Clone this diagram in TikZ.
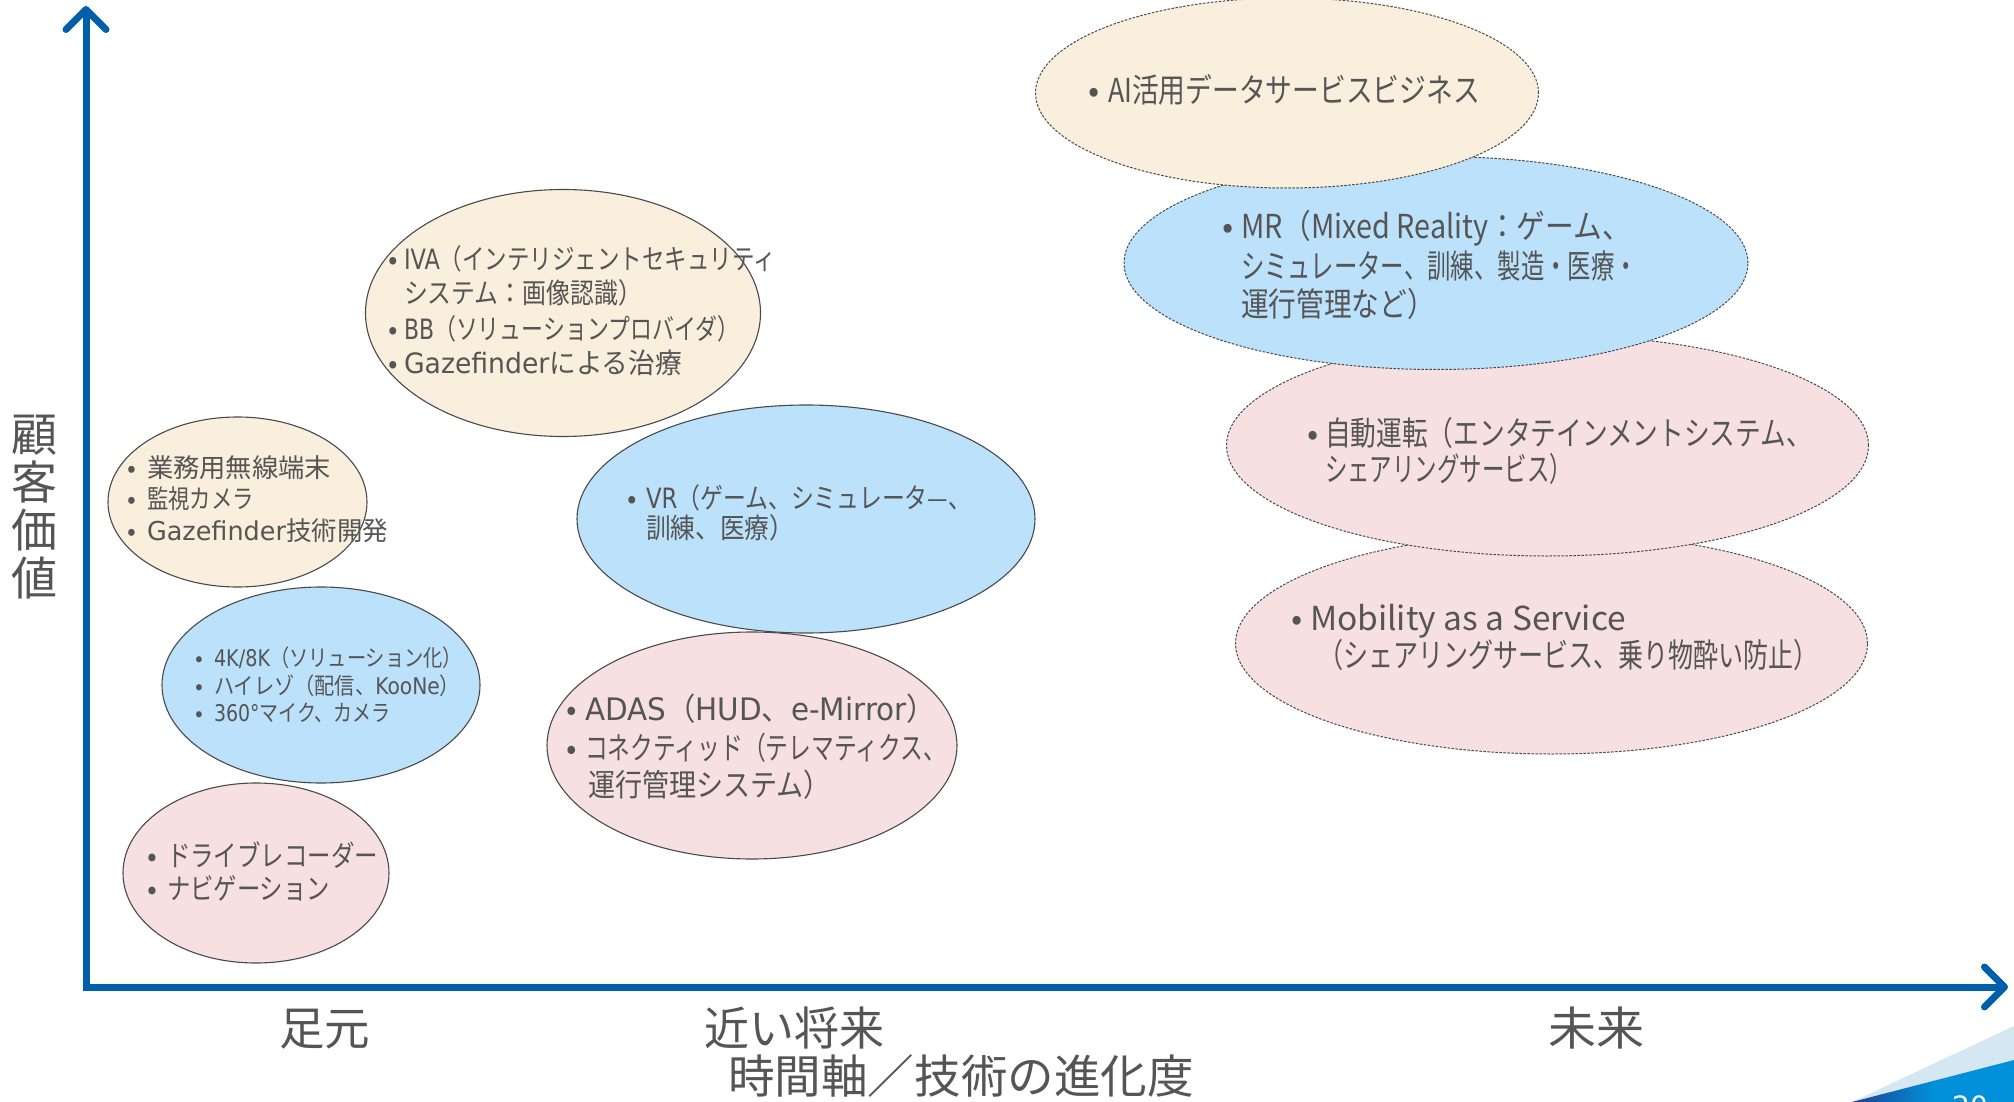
\documentclass[tikz,border=0pt]{standalone}
\usepackage{fontspec}
\usepackage{graphicx}
\usetikzlibrary{shapes.geometric,arrows.meta}
\newfontfamily\jp{Noto Sans CJK JP}
\newfontfamily\lat{DejaVu Sans}
\definecolor{axisblue}{HTML}{005FAA}
\definecolor{creamfill}{HTML}{FAEEDD}
\definecolor{skyfill}{HTML}{BBE1FB}
\definecolor{pinkfill}{HTML}{F6E0E2}
\definecolor{tgray}{HTML}{555555}
\definecolor{edgegray}{HTML}{4A4A4A}
\definecolor{decolight}{HTML}{D5E7F3}
\definecolor{decoblue}{HTML}{0091DA}
\definecolor{deconavy}{HTML}{1F3F8F}
\newcommand\fw[2]{\resizebox{#1pt}{\height}{#2}}
\newcommand\bul[2]{\makebox[#1pt][l]{•}#2}
\tikzset{
  blob/.style={ellipse, draw=edgegray, line width=1.1pt, inner sep=0pt, outer sep=0pt},
  dblob/.style={blob, dash pattern=on 2.5pt off 1.5pt, line width=1pt},
  ln/.style={anchor=base west, inner sep=0pt, outer sep=0pt, text=tgray},
  big/.style={anchor=base, inner sep=0pt, outer sep=0pt, text=tgray, font=\jp\fontsize{46pt}{48pt}\selectfont},
  axisline/.style={draw=axisblue, line width=7pt},
  axisarrow/.style={axisline, -{Straight Barb[length=20pt, width=40pt, round]}},
}
\begin{document}
\begin{tikzpicture}[x=1pt, y=-1pt]
\useasboundingbox (0,0) rectangle (2014,1102);
\fill[white] (0,0) rectangle (2014,1102);

% ---------- ellipses ----------
\node[blob, fill=creamfill, minimum width=259pt, minimum height=170pt] (eA) at (237.5,502) {};
\node[blob, fill=skyfill, minimum width=318pt, minimum height=196pt] (eB) at (321,685) {};
\node[blob, fill=pinkfill, minimum width=266pt, minimum height=180pt] (eC) at (256,873) {};
\node[blob, fill=creamfill, minimum width=395pt, minimum height=247pt] (eD) at (563,313) {};
\node[blob, fill=pinkfill, minimum width=410pt, minimum height=227pt] (eF) at (752,745.5) {};
\node[blob, fill=skyfill, minimum width=458pt, minimum height=228pt] (eE) at (806,519) {};
\node[dblob, fill=pinkfill, minimum width=632pt, minimum height=221pt] (eJ) at (1551.5,643.5) {};
\node[dblob, fill=pinkfill, minimum width=642pt, minimum height=221pt] (eI) at (1547.5,445.5) {};
\node[dblob, fill=skyfill, minimum width=624pt, minimum height=213pt] (eH) at (1436,263) {};
\node[dblob, fill=creamfill, minimum width=503pt, minimum height=190pt] (eG) at (1287,93) {};

% ---------- axes ----------
\coordinate (yb) at (86,990.5);
\coordinate (yt) at (86,6);
\coordinate (xl) at (82.5,987);
\coordinate (xr) at (2008,987);
\draw[axisarrow] (yb) -- (yt);
\draw[axisarrow] (xl) -- (xr);

% ---------- block A ----------
\begin{scope}[every node/.style={ln, font=\jp\fontsize{26pt}{26pt}\selectfont}]
\node (a1) at (127,477.6) {\bul{20}{\fw{184}{業務用無線端末}}};
\node (a2) at (127,508.6) {\bul{20}{\fw{107}{監視カメラ}}};
\node (a3) at (127,540.6) {\bul{20}{\fw{241}{{\lat Gazefinder}技術開発}}};
\end{scope}
% ---------- block B ----------
\begin{scope}[every node/.style={ln, font=\jp\fontsize{23pt}{23pt}\selectfont}]
\node (b1) at (195,666.5) {\bul{19}{\fw{248}{{\lat 4K/8K}（ソリューション化）}}};
\node (b2) at (195,694.5) {\bul{19}{\fw{246}{ハイレゾ（配信、{\lat KooNe}）}}};
\node (b3) at (195,721.5) {\bul{19}{\fw{176}{{\lat 360°}マイク、カメラ}}};
\end{scope}
% ---------- block C ----------
\begin{scope}[every node/.style={ln, font=\jp\fontsize{29pt}{29pt}\selectfont}]
\node (c1) at (147,866.7) {\bul{20}{\fw{211}{ドライブレコーダー}}};
\node (c2) at (147,899.7) {\bul{20}{\fw{163}{ナビゲーション}}};
\end{scope}
% ---------- block D ----------
\begin{scope}[every node/.style={ln, font=\jp\fontsize{28pt}{28pt}\selectfont}]
\node (d1) at (388,269.4) {\bul{16}{\fw{372}{{\lat IVA}（インテリジェントセキュリティ}}};
\node (d2) at (404,303.4) {\fw{238}{システム：画像認識）}};
\node (d3) at (388,339.4) {\bul{16}{\fw{335}{{\lat BB}（ソリューションプロバイダ）}}};
\node (d4) at (388,373.4) {\bul{16}{\fw{278}{{\lat Gazefinder}による治療}}};
\end{scope}
% ---------- block E ----------
\begin{scope}[every node/.style={ln, font=\jp\fontsize{28pt}{28pt}\selectfont}]
\node (e1) at (627,508.4) {\bul{19}{\fw{325}{{\lat VR}（ゲーム、シミュレータ—、}}};
\node (e2) at (646,538.4) {\fw{148}{訓練、医療）}};
\end{scope}
% ---------- block F ----------
\begin{scope}[every node/.style={ln, font=\jp\fontsize{31pt}{31pt}\selectfont}]
\node (f1) at (566,720.5) {\bul{19}{\fw{351}{{\lat ADAS}（{\lat HUD}、{\lat e-Mirror}）}}};
\node (f2) at (566,759.5) {\bul{19}{\fw{361}{コネクティッド（テレマティクス、}}};
\node (f3) at (588,796.5) {\fw{243}{運行管理システム）}};
\end{scope}
% ---------- block G ----------
\begin{scope}[every node/.style={ln, font=\jp\fontsize{33pt}{33pt}\selectfont}]
\node (g1) at (1088,102.2) {\bul{20}{\fw{372}{AI活用データサービスビジネス}}};
\end{scope}
% ---------- block H ----------
\begin{scope}[every node/.style={ln, font=\jp\fontsize{33pt}{33pt}\selectfont}]
\node (h1) at (1222,238.2) {\bul{19}{\fw{390}{MR（Mixed Reality：ゲーム、}}};
\node (h2) at (1241,278.2) {\fw{397}{シミュレーター、訓練、製造・医療・}};
\node (h3) at (1241,316.2) {\fw{194}{運行管理など）}};
\end{scope}
% ---------- block I ----------
\begin{scope}[every node/.style={ln, font=\jp\fontsize{33pt}{33pt}\selectfont}]
\node (i1) at (1307,445.2) {\bul{18}{\fw{487}{自動運転（エンタテインメントシステム、}}};
\node (i2) at (1325,481.2) {\fw{247}{シェアリングサービス）}};
\end{scope}
% ---------- block J ----------
\begin{scope}[every node/.style={ln, font=\jp\fontsize{33pt}{33pt}\selectfont}]
\node (j1) at (1291,630.2) {\bul{19}{\fw{316}{Mobility as a Service}}};
\node (j2) at (1318,667.2) {\fw{501}{（シェアリングサービス、乗り物酔い防止）}};
\end{scope}

% ---------- axis labels ----------
\node[big] (lbl1) at (324.5,1045) {\fw{91}{足元}};
\node[big] (lbl2) at (794,1045) {\fw{180}{近い将来}};
\node[big] (lbl3) at (1596,1045) {\fw{96}{未来}};
\node[big] (xtitle) at (961,1093) {\fw{466}{時間軸／技術の進化度}};
\node[anchor=center, inner sep=0pt, text=tgray, align=center,
      font=\jp\fontsize{46pt}{48pt}\selectfont] (ytitle) at (34,507) {顧\\客\\価\\値};

% ---------- corner decoration ----------
\begin{scope}
\clip (0,0) rectangle (2014,1102);
\fill[decolight] (1852,1102) -- (2014,1026) -- (2014,1102) -- cycle;
\shade[left color=deconavy, right color=decoblue, middle color=decoblue] (1852,1102) -- (2014,1060) -- (2014,1102) -- cycle;
\node[anchor=north west, inner sep=0pt, text=white, font=\lat\fontsize{28pt}{28pt}\selectfont] (pg) at (1952,1096) {20};
\end{scope}
\end{tikzpicture}
\end{document}
